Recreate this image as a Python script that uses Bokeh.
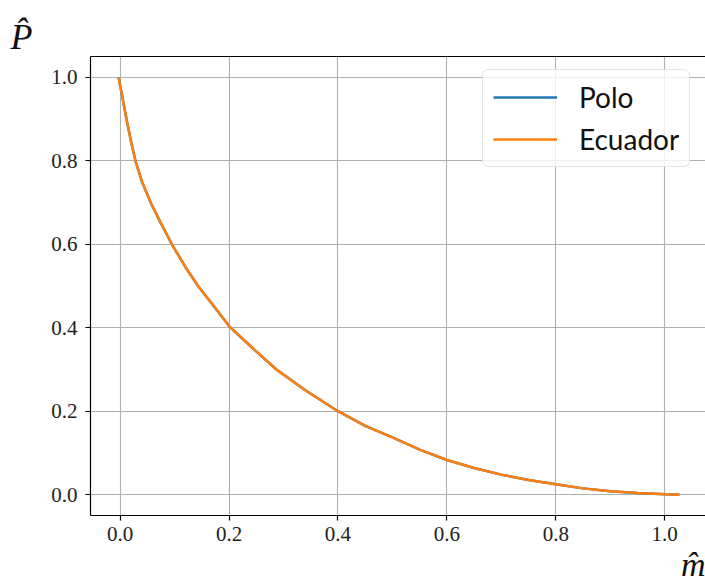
from bokeh.plotting import figure
from bokeh.models import (Range1d, LinearAxis, FixedTicker, PrintfTickFormatter,
                          Title, Legend, LegendItem, Grid)
from bokeh.embed import file_html
from bokeh.resources import INLINE

# Normalised mass m̂ against normalised pressure P̂ for both profiles
m_hat = [-0.003, 0.004, 0.012, 0.020, 0.028, 0.040, 0.057, 0.075, 0.095,
         0.120, 0.143, 0.170, 0.200, 0.240, 0.287, 0.340, 0.400, 0.450,
         0.500, 0.550, 0.600, 0.650, 0.700, 0.750, 0.800, 0.850, 0.900,
         0.950, 1.000, 1.027]
p_polo = [1.000, 0.953, 0.897, 0.846, 0.800, 0.750, 0.697, 0.650, 0.600,
          0.545, 0.500, 0.455, 0.404, 0.355, 0.300, 0.250, 0.200, 0.165,
          0.137, 0.108, 0.083, 0.064, 0.048, 0.035, 0.025, 0.015, 0.008,
          0.004, 0.001, 0.000]
p_ecuador = [1.000, 0.953, 0.897, 0.846, 0.800, 0.750, 0.697, 0.650, 0.600,
             0.545, 0.500, 0.455, 0.404, 0.355, 0.300, 0.250, 0.200, 0.165,
             0.137, 0.108, 0.083, 0.064, 0.048, 0.035, 0.025, 0.015, 0.008,
             0.004, 0.001, 0.000]
ticks = [0.0, 0.2, 0.4, 0.6, 0.8, 1.0]

SERIF = "Liberation Serif"

p = figure(width=705, height=584, output_backend="svg", toolbar_location=None,
           x_range=Range1d(-0.0545, 1.075), y_range=Range1d(-0.05, 1.05),
           x_axis_type=None, y_axis_type=None,
           min_border_left=90, min_border_right=0,
           min_border_top=56, min_border_bottom=69)
p.outline_line_color = None
p.background_fill_color = "white"
p.border_fill_color = "white"


def style_axis(ax):
    ax.ticker = FixedTicker(ticks=ticks)
    ax.formatter = PrintfTickFormatter(format="%.1f")
    ax.axis_line_color = "black"
    ax.axis_line_width = 1.2
    ax.major_tick_line_color = "black"
    ax.major_tick_line_width = 1.2
    ax.major_tick_out = 5
    ax.major_tick_in = 0
    ax.minor_tick_line_color = None
    ax.major_label_text_font = SERIF
    ax.major_label_text_font_size = "21px"
    ax.major_label_text_color = "#222222"
    ax.major_label_standoff = 8


xaxis = LinearAxis()
style_axis(xaxis)
xaxis.major_label_standoff = 6
p.add_layout(xaxis, "below")
yaxis = LinearAxis()
style_axis(yaxis)
p.add_layout(yaxis, "left")

# top spine only
top = LinearAxis(ticker=FixedTicker(ticks=[]))
top.axis_line_color = "black"
top.axis_line_width = 1.2
top.major_tick_line_color = None
top.minor_tick_line_color = None
top.major_label_text_font_size = "0px"
p.add_layout(top, "above")

for dim in (0, 1):
    p.add_layout(Grid(dimension=dim, ticker=FixedTicker(ticks=ticks),
                      grid_line_color="#b0b0b0", grid_line_width=1.1))

r_polo = p.line(m_hat, p_polo, line_color="#1f77b4", line_width=2.5)
r_ecu = p.line(m_hat, p_ecuador, line_color="#ff7f0e", line_width=2.5)

legend = Legend(items=[LegendItem(label="Polo", renderers=[r_polo]),
                       LegendItem(label="Ecuador", renderers=[r_ecu])],
                location=(392, 348))
legend.label_text_font = "Lato"
legend.label_text_font_size = "28px"
legend.label_text_color = "#111111"
legend.glyph_width = 64
legend.glyph_height = 34
legend.label_height = 34
legend.label_standoff = 22
legend.spacing = 8
legend.padding = 10
legend.margin = 0
legend.border_line_color = "#cccccc"
legend.border_line_width = 1
legend.background_fill_alpha = 0.8
if "border_radius" in Legend.properties():
    legend.border_radius = 6
p.add_layout(legend)

# axis titles in the corners, as matplotlib places them
p.add_layout(Title(text="P\u0302", align="left", offset=-80,
                   text_font=SERIF, text_font_style="italic",
                   text_font_size="36px", text_color="#111111",
                   standoff=0), "above")
p.add_layout(Title(text="m\u0302", align="right", offset=0,
                   text_font=SERIF, text_font_style="italic",
                   text_font_size="34px", text_color="#111111",
                   text_line_height=0.8, standoff=0), "below")

open("out.html", "w").write(file_html(p, INLINE))
